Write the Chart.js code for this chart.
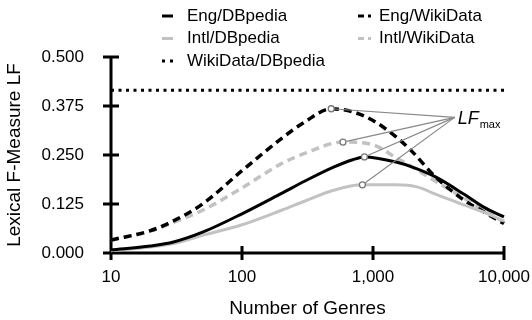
<!DOCTYPE html>
<html>
<head>
<meta charset="utf-8">
<script src="https://cdn.jsdelivr.net/npm/chart.js@4.4.1/dist/chart.umd.min.js"></script>
<style>
  html, body { margin: 0; padding: 0; background: #fff; }
  #wrap { width: 532px; height: 320px; }
</style>
</head>
<body>
<div id="wrap"><canvas id="myChart" width="532" height="320"></canvas></div>
<script>
// values (number of genres -> lexical F-measure)
const engDbpediaN = [10, 20, 30, 50, 100, 200, 300, 500, 700, 860, 1500, 2000, 3000, 5000, 7000, 10000]
const engDbpediaLF = [0.008, 0.018, 0.028, 0.053, 0.100, 0.152, 0.183, 0.219, 0.238, 0.245, 0.232, 0.219, 0.194, 0.149, 0.117, 0.092]

const intlDbpediaN = [10, 20, 30, 50, 100, 200, 300, 500, 830, 1500, 2200, 3000, 5000, 7000, 10000]
const intlDbpediaLF = [0.006, 0.015, 0.024, 0.045, 0.072, 0.109, 0.132, 0.160, 0.174, 0.174, 0.168, 0.150, 0.122, 0.104, 0.081]

const engWikiN = [10, 20, 30, 50, 100, 200, 300, 480, 700, 1000, 1500, 2000, 3000, 5000, 7000, 10000]
const engWikiLF = [0.033, 0.057, 0.082, 0.125, 0.210, 0.292, 0.334, 0.368, 0.360, 0.338, 0.296, 0.258, 0.194, 0.134, 0.105, 0.075]

const intlWikiN = [10, 20, 30, 50, 100, 200, 300, 590, 1000, 1500, 2000, 3000, 5000, 7000, 10000]
const intlWikiLF = [0.033, 0.056, 0.078, 0.109, 0.166, 0.228, 0.254, 0.283, 0.276, 0.243, 0.219, 0.183, 0.139, 0.109, 0.079]

const wikiDbN = [10, 10000]
const wikiDbLF = [0.415, 0.415]

const xTickValues = [10, 100, 1000, 10000]
const xTickLabels = ['10', '100', '1,000', '10,000']
const yTickValues = [0, 0.125, 0.25, 0.375, 0.5]

// where the LF_max callout lines meet
const lfLabelAt = { x: 4200, y: 0.346 }

const FONT = "'Liberation Sans', Arial, Helvetica, sans-serif"
Chart.defaults.font.family = FONT
Chart.defaults.color = '#000'

function pts(xs, ys) {
  return xs.map((v, i) => ({ x: v, y: ys[i] }))
}

function peakIndex(ys) {
  return ys.indexOf(Math.max(...ys))
}

function curve(label, xs, ys, color, width, dash, legendW) {
  const pk = peakIndex(ys)
  return {
    label: label,
    data: pts(xs, ys),
    borderColor: color,
    borderWidth: width,
    borderDash: dash,
    cubicInterpolationMode: 'monotone',
    fill: false,
    clip: false,
    pointRadius: c => c.dataIndex === pk ? 3 : 0,
    pointBackgroundColor: '#fff',
    pointBorderColor: '#777',
    pointBorderWidth: 1.3,
    legendW: legendW,
    peak: pk
  }
}

const data = {
  datasets: [
    curve('Eng/DBpedia', engDbpediaN, engDbpediaLF, '#000', 3, [], 11),
    curve('Intl/DBpedia', intlDbpediaN, intlDbpediaLF, '#c2c2c2', 3, [], 11),
    curve('Eng/WikiData', engWikiN, engWikiLF, '#000', 3.5, [8, 5], 13),
    curve('Intl/WikiData', intlWikiN, intlWikiLF, '#c2c2c2', 3.5, [8, 5], 13),
    {
      label: 'WikiData/DBpedia',
      data: pts(wikiDbN, wikiDbLF),
      borderColor: '#000',
      borderWidth: 3,
      borderDash: [3, 4.5],
      pointRadius: 0,
      clip: false,
      legendW: 11,
      noPeak: true
    }
  ]
}

// legend slots: [dataset index, symbol x, text x, y]
const legendSlots = [
  [0, 162, 187, 16],
  [1, 162, 187, 38.5],
  [4, 162, 187, 61],
  [2, 358, 379, 16],
  [3, 358, 379, 38.5]
]

const lfPlugin = {
  id: 'lfPlugin',
  beforeDatasetsDraw(chart) {
    const { ctx, chartArea: a } = chart
    const x = chart.scales.x, y = chart.scales.y
    ctx.save()
    ctx.strokeStyle = '#000'
    ctx.lineWidth = 3
    ctx.beginPath()
    ctx.moveTo(a.left, y.getPixelForValue(0.5))
    ctx.lineTo(a.left, a.bottom + 1.5)
    ctx.moveTo(a.left - 1.5, a.bottom)
    ctx.lineTo(x.getPixelForValue(10000) + 1.5, a.bottom)
    yTickValues.forEach(v => {
      const py = y.getPixelForValue(v)
      ctx.moveTo(a.left - 8, py)
      ctx.lineTo(a.left + 8, py)
    })
    xTickValues.forEach(v => {
      const px = x.getPixelForValue(v)
      ctx.moveTo(px, a.bottom - 7)
      ctx.lineTo(px, a.bottom + 7)
    })
    ctx.stroke()
    ctx.restore()
  },
  afterDatasetsDraw(chart) {
    const { ctx } = chart
    const x = chart.scales.x, y = chart.scales.y
    const tx = x.getPixelForValue(lfLabelAt.x)
    const ty = y.getPixelForValue(lfLabelAt.y)
    ctx.save()
    ctx.strokeStyle = '#888'
    ctx.lineWidth = 1.2
    chart.data.datasets.forEach((ds, i) => {
      if (ds.noPeak) return
      const p = chart.getDatasetMeta(i).data[ds.peak]
      const dx = tx - p.x, dy = ty - p.y
      const len = Math.sqrt(dx * dx + dy * dy)
      ctx.beginPath()
      ctx.moveTo(p.x + dx / len * 3.5, p.y + dy / len * 3.5)
      ctx.lineTo(tx, ty)
      ctx.stroke()
    })
    ctx.fillStyle = '#000'
    ctx.textBaseline = 'alphabetic'
    ctx.font = 'italic 18px ' + FONT
    ctx.fillText('LF', tx + 3, ty + 7)
    const w = ctx.measureText('LF').width
    ctx.font = '11px ' + FONT
    ctx.fillText('max', tx + 3 + w + 1, ty + 11)
    ctx.restore()
  },
  afterDraw(chart) {
    const { ctx } = chart
    ctx.save()
    ctx.font = '17px ' + FONT
    ctx.textBaseline = 'middle'
    ctx.fillStyle = '#000'
    legendSlots.forEach(s => {
      const ds = chart.data.datasets[s[0]]
      ctx.strokeStyle = ds.borderColor
      ctx.lineWidth = 3
      ctx.setLineDash(ds.borderDash.length ? (ds.borderDash[0] > 5 ? [6, 4] : [3, 5]) : [])
      ctx.beginPath()
      ctx.moveTo(s[1], s[3])
      ctx.lineTo(s[1] + ds.legendW, s[3])
      ctx.stroke()
      ctx.setLineDash([])
      ctx.fillText(ds.label, s[2], s[3])
    })
    ctx.restore()
  }
}

const config = {
  type: 'line',
  data: data,
  options: {
    responsive: false,
    animation: false,
    layout: { padding: { top: 57, right: 28, left: 0, bottom: 0 } },
    plugins: {
      legend: { display: false },
      tooltip: { enabled: false }
    },
    scales: {
      x: {
        type: 'logarithmic',
        min: 10,
        max: 10000,
        afterBuildTicks: s => { s.ticks = xTickValues.map(v => ({ value: v })) },
        afterFit: s => { s.height = 67; s.paddingLeft = 0; s.paddingRight = 0 },
        grid: { display: false, drawTicks: false },
        border: { display: false },
        ticks: {
          autoSkip: false,
          maxRotation: 0,
          padding: 14,
          color: '#000',
          font: { size: 17 },
          callback: (v, i) => xTickLabels[i]
        },
        title: {
          display: true,
          text: 'Number of Genres',
          color: '#000',
          font: { size: 19 },
          padding: { top: 0, bottom: 0 }
        }
      },
      y: {
        min: 0,
        max: 0.5,
        afterBuildTicks: s => { s.ticks = yTickValues.map(v => ({ value: v })) },
        afterFit: s => { s.width = 111; s.paddingTop = 0; s.paddingBottom = 0 },
        grid: { display: false, drawTicks: false },
        border: { display: false },
        ticks: {
          padding: 27,
          color: '#000',
          font: { size: 17 },
          callback: v => v.toFixed(3)
        },
        title: {
          display: true,
          text: 'Lexical F-Measure LF',
          color: '#000',
          font: { size: 19 },
          padding: { top: 3, bottom: 0 }
        }
      }
    }
  },
  plugins: [lfPlugin]
}

const myChart = new Chart(document.getElementById('myChart'), config)
</script>
</body>
</html>
